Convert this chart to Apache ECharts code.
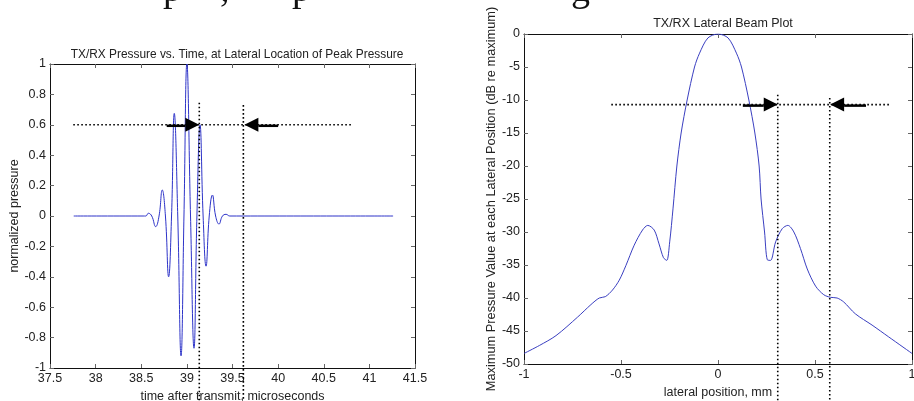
<!DOCTYPE html>
<html>
<head>
<meta charset="utf-8">
<title>TX/RX pressure and lateral beam plot</title>
<script src="https://cdn.jsdelivr.net/npm/echarts@6/dist/echarts.min.js"></script>
<style>
  html, body { margin: 0; padding: 0; background: #fff; }
  #chart { width: 914px; height: 401px; }
</style>
</head>
<body>
<div id="chart"></div>
<script>
// left panel: pressure waveform (time in microseconds, normalized pressure)
const pulseTime = [37.76, 38.52, 38.55, 38.578, 38.615, 38.658, 38.695, 38.73, 38.765, 38.80,
  38.832, 38.862, 38.90, 38.936, 38.968, 39.0, 39.04, 39.078, 39.11, 39.144,
  39.178, 39.21, 39.245, 39.28, 39.315, 39.352, 39.39, 39.43, 39.47, 41.26];
const pulsePressure = [0, 0, 0, 0.018, 0, -0.07, 0, 0.171, 0, -0.40,
  0, 0.675, 0, -0.92, 0, 1.0, 0, -0.87, 0, 0.60,
  0, -0.33, 0, 0.138, 0, -0.053, 0, 0.011, 0, 0];

// right panel: lateral beam profile (mm, dB re maximum)
const lateralPos = [-1.0, -0.921, -0.835, -0.724, -0.655, -0.612, -0.581, -0.544, -0.509, -0.475,
  -0.432, -0.389, -0.362, -0.329, -0.304, -0.281, -0.264, -0.249, -0.232, -0.212,
  -0.19, -0.159, -0.121, -0.095, -0.052, 0, 0.052, 0.095, 0.121,
  0.159, 0.19, 0.212, 0.222, 0.240, 0.254, 0.271, 0.297, 0.331, 0.360,
  0.391, 0.425, 0.460, 0.503, 0.545, 0.580, 0.614, 0.648, 0.708, 0.794,
  0.880, 1.0];
const beamDb = [-48.4, -47.2, -45.7, -42.9, -41.0, -40.0, -39.8, -38.8, -37.3, -35.1,
  -32.0, -29.7, -29.0, -29.7, -31.8, -33.9, -34.3, -31.5, -26.5, -20.0,
  -15.0, -10.0, -5.0, -2.9, -0.6, 0, -0.6, -2.9, -5.0,
  -10.0, -15.0, -20.0, -25.0, -30.0, -34.2, -34.3, -31.5, -29.5, -29.0,
  -30.0, -32.5, -35.6, -38.2, -39.5, -39.9, -40.0, -40.6, -42.4, -44.1,
  -45.9, -48.4];

// dotted guide lines, in data units
const leftGuides = [
  [[37.755, 0.6], [40.806, 0.6]],
  [[39.136, 0.745], [39.136, -1.217]],
  [[39.619, 0.73], [39.619, -1.217]]
];
const rightGuides = [
  [[-0.55, -10.7], [0.883, -10.7]],
  [[0.308, -9.2], [0.308, -55.6]],
  [[0.576, -9.7], [0.576, -55.6]]
];
// arrows: [tail x, tip x, y]
const leftArrows = [[38.779, 39.136, 0.6], [40.0, 39.63, 0.6]];
const rightArrows = [[0.128, 0.308, -10.7], [0.763, 0.578, -10.7]];

// tick settings
const leftXTicks = { min: 37.5, max: 41.5, interval: 0.5 };
const leftYTicks = { min: -1, max: 1, interval: 0.2 };
const rightXTicks = { min: -1, max: 1, interval: 0.5 };
const rightYTicks = { min: -50, max: 0, interval: 5 };

// cut-off descenders of the page text line above the figure
const pageGlyphs = ['p', ',', 'p', 'g'];
const pageGlyphX = [163, 220, 292, 571];

const FONT = '"Liberation Sans", Arial, sans-serif';
const TXT = '#222';

function axis(gridIndex, ticks, position, extra) {
  return Object.assign({
    type: 'value',
    gridIndex: gridIndex,
    position: position,
    min: ticks.min,
    max: ticks.max,
    interval: ticks.interval,
    axisLine: { show: true, onZero: false, lineStyle: { color: '#111', width: 1 } },
    axisTick: { show: true, inside: true, length: 4, lineStyle: { color: '#666' } },
    splitLine: { show: false },
    axisLabel: { show: false }
  }, extra || {});
}

function labels(margin) {
  return {
    show: true, margin: margin, color: TXT, fontSize: 12.5, fontFamily: FONT,
    showMinLabel: true, showMaxLabel: true
  };
}

function guideSeries(segs, gi) {
  return segs.map(function (seg) {
    return {
      type: 'line', xAxisIndex: gi * 2, yAxisIndex: gi * 2,
      data: seg, symbol: 'none', clip: false, silent: true, z: 5,
      lineStyle: { color: '#000', width: 1.6, type: [1.6, 2.4] }
    };
  });
}

function arrowSeries(arrows, gi) {
  return {
    type: 'custom', xAxisIndex: gi * 2, yAxisIndex: gi * 2,
    data: arrows, silent: true, z: 6,
    encode: { x: [0, 1], y: 2 },
    renderItem: function (params, api) {
      const a = api.coord([api.value(0), api.value(2)]);
      const b = api.coord([api.value(1), api.value(2)]);
      const dir = b[0] > a[0] ? 1 : -1;
      const base = b[0] - dir * 14;
      return {
        type: 'group',
        children: [
          { type: 'line', shape: { x1: a[0], y1: a[1] + 1, x2: base, y2: b[1] + 1 },
            style: { stroke: '#000', lineWidth: 2.5 } },
          { type: 'polygon', shape: { points: [[b[0], b[1]], [base, b[1] - 7], [base, b[1] + 7]] },
            style: { fill: '#000' } }
        ]
      };
    }
  };
}

const chart = echarts.init(document.getElementById('chart'), null, { renderer: 'canvas' });

chart.setOption({
  animation: false,
  backgroundColor: '#fff',
  title: [
    { text: 'TX/RX Pressure vs. Time, at Lateral Location of Peak Pressure',
      left: 232, top: 44, textAlign: 'center',
      textStyle: { fontSize: 11.9, fontWeight: 'normal', color: TXT, fontFamily: FONT } },
    { text: 'TX/RX Lateral Beam Plot',
      left: 718, top: 12, textAlign: 'center',
      textStyle: { fontSize: 12.5, fontWeight: 'normal', color: TXT, fontFamily: FONT } }
  ],
  graphic: pageGlyphs.map(function (g, i) {
    return {
      type: 'text', x: pageGlyphX[i], y: 10, silent: true,
      style: { text: g, font: '38px "Liberation Serif", serif', fill: '#111', verticalAlign: 'bottom' }
    };
  }),
  grid: [
    { left: 50, top: 64, width: 365, height: 304, outerBoundsMode: 'none', containLabel: false },
    { left: 524, top: 34, width: 388, height: 330, outerBoundsMode: 'none', containLabel: false }
  ],
  xAxis: [
    axis(0, leftXTicks, 'bottom', {
      axisLabel: labels(4),
      name: 'time after transmit, microseconds', nameLocation: 'middle', nameGap: 18,
      nameTextStyle: { color: TXT, fontSize: 12.5, fontFamily: FONT, verticalAlign: 'top' }
    }),
    axis(0, leftXTicks, 'top'),
    axis(1, rightXTicks, 'bottom', {
      axisLabel: labels(4),
      name: 'lateral position, mm', nameLocation: 'middle', nameGap: 22,
      nameTextStyle: { color: TXT, fontSize: 12.5, fontFamily: FONT, verticalAlign: 'top' }
    }),
    axis(1, rightXTicks, 'top')
  ],
  yAxis: [
    axis(0, leftYTicks, 'left', {
      axisLabel: labels(4),
      name: 'normalized pressure', nameLocation: 'middle', nameGap: 26, nameRotate: 90,
      nameTextStyle: { color: TXT, fontSize: 12.5, fontFamily: FONT }
    }),
    axis(0, leftYTicks, 'right'),
    axis(1, rightYTicks, 'left', {
      axisLabel: labels(4),
      name: 'Maximum Pressure Value at each Lateral Position (dB re maximum)',
      nameLocation: 'middle', nameGap: 26, nameRotate: 90,
      nameTextStyle: { color: TXT, fontSize: 12.8, fontFamily: FONT }
    }),
    axis(1, rightYTicks, 'right')
  ],
  series: [
    {
      type: 'line', xAxisIndex: 0, yAxisIndex: 0,
      data: pulseTime.map(function (t, i) { return [t, pulsePressure[i]]; }),
      symbol: 'none', smooth: 0.45,
      lineStyle: { color: '#2d33c8', width: 1 }
    },
    {
      type: 'line', xAxisIndex: 2, yAxisIndex: 2,
      data: lateralPos.map(function (x, i) { return [x, beamDb[i]]; }),
      symbol: 'none', smooth: 0.3,
      lineStyle: { color: '#3a3fc0', width: 1 }
    }
  ].concat(guideSeries(leftGuides, 0), guideSeries(rightGuides, 1), [arrowSeries(leftArrows, 0), arrowSeries(rightArrows, 1)])
});
</script>
</body>
</html>
